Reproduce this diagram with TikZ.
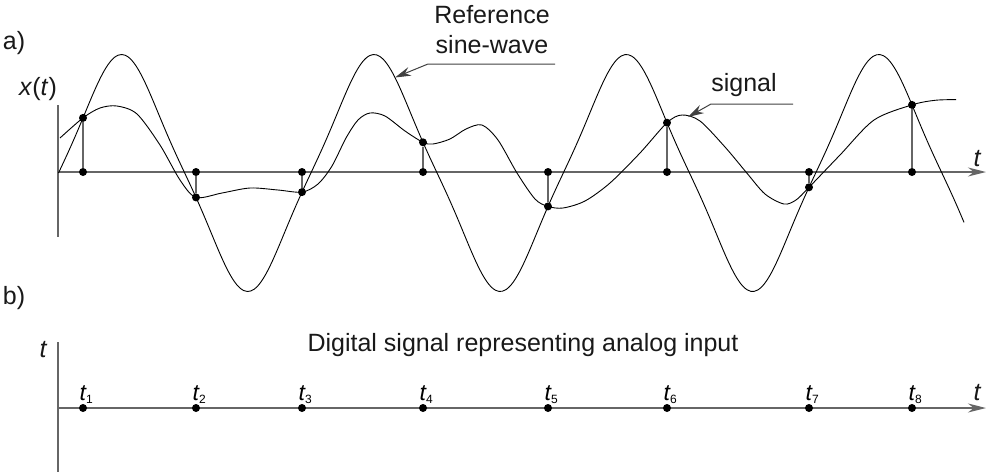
\documentclass[tikz,border=0pt]{standalone}
\usepackage{fontspec}
\setmainfont{Liberation Sans}
\usetikzlibrary{arrows.meta}
\begin{document}
\begin{tikzpicture}[x=1pt,y=-1pt,
  declare function={refw(\x)=173-118.5*sin(1.42631*(\x-58.5))*(1-0.28*cos(1.42631*(\x-58.5))*cos(1.42631*(\x-58.5)));},
  axisline/.style={draw=black!60, line width=1.5pt},
  axisarrow/.style={axisline, -{Stealth[length=18pt,width=9pt]}},
  wave/.style={draw=black, line width=0.9pt},
  stem/.style={draw=black!60, line width=1.3pt},
  dot/.style={circle, fill=black, inner sep=0pt, minimum size=8pt},
  txt/.style={font=\fontsize{25}{30}\selectfont, inner sep=0pt, text=black!90},
  itxt/.style={txt, font=\fontsize{25}{30}\selectfont\itshape},
  leader/.style={draw=black!75, line width=1pt},
  leaderarrow/.style={leader, -{Stealth[length=16pt,width=9pt]}}
]
\useasboundingbox (0,0) rectangle (986,472);

% ---------- panel a ----------
\node[txt] (lbla) at (14,43) {a)};
\node[txt] (xt) at (38,89) {\textit{x}(\textit{t})};
\coordinate (ya0) at (58,105);
\coordinate (ya1) at (58,237);
\draw[axisline] (ya0) -- (ya1);
\coordinate (xa0) at (58,172);
\coordinate (xa1) at (986,172);
\draw[axisarrow] (xa0) -- (xa1);
\node[itxt] (ta) at (977,159) {t};

% reference wave
\draw[wave] plot[domain=58.5:964, samples=260, smooth] (\x,{refw(\x)});

% samples
\foreach \i/\x in {1/83,2/196,3/302,4/423,5/548,6/667,7/809,8/912}{
  \node[dot] (a\i) at (\x,172) {};
  \node[dot] (s\i) at (\x,{refw(\x)}) {};
  \draw[stem] (a\i) -- (s\i);
}

% signal
\draw[wave] plot[smooth, tension=0.5] coordinates {(60,138) (s1.center) (100,108) (117,106) (137,114) (160,145) (180,180) (s2.center) (222,193) (250,188) (278,190) (s3.center) (318,184) (332,166) (346,138) (358,120) (370,113) (385,116) (405,131) (s4.center) (433,144) (450,139) (466,129) (482,125) (498,140) (517,173) (535,199) (s5.center) (563,208) (585,201) (610,183) (640,153) (s6.center) (682,115) (700,121) (725,147) (746,172) (765,194) (784,204) (796,200) (s7.center) (840,155) (874,120) (s8.center) (935,100.3) (956,99.6)};

% annotations
\node[txt, align=center] (reflbl) at (492,30) {Reference\\sine-wave};
\coordinate (r0) at (555,64);
\coordinate (r1) at (428,64);
\coordinate (rtip) at (395,{refw(395)});
\draw[leaderarrow] (r0) -- (r1) -- (rtip);

\node[txt] (siglbl) at (744,85) {signal};
\coordinate (g0) at (793,104);
\coordinate (g1) at (711,104);
\coordinate (gtip) at (688,117);
\draw[leaderarrow] (g0) -- (g1) -- (gtip);

% ---------- panel b ----------
\node[txt] (lblb) at (14,298) {b)};
\node[itxt] (tb) at (43,350) {t};
\coordinate (yb0) at (58,342);
\coordinate (yb1) at (58,472);
\draw[axisline] (yb0) -- (yb1);
\coordinate (xb0) at (58,408);
\coordinate (xb1) at (986,408);
\draw[axisarrow] (xb0) -- (xb1);
\node[itxt] (tb2) at (977,393) {t};
\node[txt] (dig) at (523,345) {Digital signal representing analog input};

\foreach \i/\x in {1/83,2/196,3/302,4/423,5/548,6/667,7/809,8/912}{
  \node[dot] (b\i) at (\x,408) {};
  \node[inner sep=0pt, anchor=base west] (l\i) at (\x-3.5,400)
    {\fontsize{23}{24}\selectfont\itshape t\raisebox{-3pt}{\fontsize{12}{12}\selectfont\upshape\i}};
}
\end{tikzpicture}
\end{document}
